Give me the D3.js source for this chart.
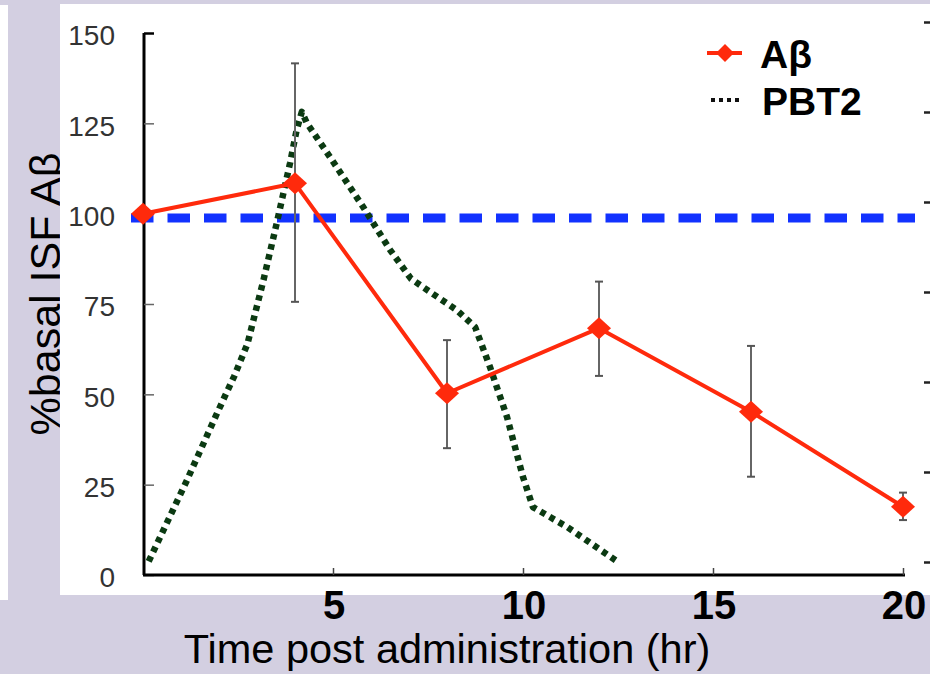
<!DOCTYPE html>
<html>
<head>
<meta charset="utf-8">
<script src="https://cdn.jsdelivr.net/npm/d3@7"></script>
<style>
  html, body { margin: 0; padding: 0; background: #d3cfe1; }
  svg { display: block; }
  text { font-family: "Liberation Sans", Arial, Helvetica, sans-serif; }
</style>
</head>
<body>
<svg id="chart" width="930" height="674"></svg>
<script>
// ---- data ----
const abTime   = [0, 4, 8, 12, 16, 20];
const abValue  = [100, 108.4, 50.3, 68.3, 45.2, 18.9];
const abUpper  = [null, 141.6, 65.0, 81.2, 63.4, 22.8];
const abLower  = [null, 75.6, 35.1, 55.1, 27.2, 15.2];

const pbtTime  = [0.15, 1.16, 1.95, 2.4, 2.75, 3.17, 3.52, 3.87, 4.04, 4.18, 4.31, 4.92, 5.79, 6.5, 7.05, 7.6, 8.26, 8.74, 9.13, 9.58, 10.0, 10.26, 11.16, 12.5];
const pbtValue = [3.8, 26.3, 44.8, 55, 64, 81.6, 97.4, 114, 123, 128.2, 125.1, 115.7, 101.9, 90, 82, 78, 73.3, 68.6, 57.6, 43.7, 27.1, 18.8, 13.3, 3.6];

const baselineValue = 98.8;
const yTicks = [0, 25, 50, 75, 100, 125, 150];
const xTicks = [5, 10, 15, 20];
const seriesNames = ["Aβ", "PBT2"];
const xTitle = "Time post administration (hr)";
const yTitle = "%basal ISF Aβ";

// ---- scales ----
const svg = d3.select("#chart");
const x = d3.scaleLinear().domain([0, 20]).range([143, 903]);
const y = d3.scaleLinear().domain([0, 150]).range([575, 33]);
const yRight = d3.scaleLinear().domain([0, 150]).range([562, 22]);

// background
svg.append("rect").attr("x", 0).attr("y", 0).attr("width", 930).attr("height", 674).attr("fill", "#d3cfe1");
svg.append("rect").attr("x", 0).attr("y", 5).attr("width", 8).attr("height", 595).attr("fill", "#ffffff");

// y title (partly under panel edge)
svg.append("text")
  .attr("transform", "translate(60,294) rotate(-90)")
  .attr("text-anchor", "middle")
  .attr("font-size", 43)
  .attr("fill", "#000")
  .text(yTitle);

// white panel
svg.append("rect").attr("x", 60).attr("y", 4).attr("width", 870).attr("height", 591).attr("fill", "#ffffff");

// y tick labels
svg.append("g").selectAll("text").data(yTicks).join("text")
  .attr("x", 115).attr("y", d => y(d) + 5)
  .attr("text-anchor", "end").attr("dominant-baseline", "middle")
  .attr("font-size", 28).attr("fill", "#333")
  .text(d => d);

// left axis
const yAxis = d3.axisRight(y).tickValues(yTicks).tickSize(10).tickFormat("");
const gy = svg.append("g").attr("transform", "translate(144,0)").call(yAxis);
gy.select(".domain").attr("stroke", "#000").attr("stroke-width", 3).attr("d", `M0,${y(150)}V${y(0)}`);
gy.selectAll(".tick line").attr("stroke", "#666").attr("stroke-width", 1.5);
gy.selectAll(".tick").filter(d => d === 150).select("line").attr("stroke", "#000").attr("stroke-width", 2.5);

// right-side stray axis ticks
const gr = svg.append("g").attr("transform", "translate(930,0)")
  .call(d3.axisLeft(yRight).tickValues(yTicks).tickSize(6).tickFormat(""));
gr.select(".domain").remove();
gr.selectAll(".tick line").attr("stroke", "#222").attr("stroke-width", 2.5);

// x axis
const xAxis = d3.axisTop(x).tickValues(xTicks).tickSize(7).tickFormat("");
const gx = svg.append("g").attr("transform", "translate(0,575)").call(xAxis);
gx.select(".domain").attr("stroke", "#000").attr("stroke-width", 3).attr("d", `M${x(0)},0H${x(20) + 2}`);
gx.selectAll(".tick line").attr("stroke", "#444").attr("stroke-width", 1.5);

// x tick labels
svg.append("g").selectAll("text").data(xTicks).join("text")
  .attr("x", d => x(d) + 1).attr("y", 619)
  .attr("text-anchor", "middle")
  .attr("font-size", 40).attr("font-weight", "bold").attr("fill", "#000")
  .text(d => d);

// x title
svg.append("text")
  .attr("x", 447).attr("y", 663)
  .attr("text-anchor", "middle")
  .attr("font-size", 41.5).attr("fill", "#000")
  .text(xTitle);

// baseline dashed blue line
svg.append("line")
  .attr("x1", 131).attr("x2", 915)
  .attr("y1", y(baselineValue)).attr("y2", y(baselineValue))
  .attr("stroke", "#1232ff").attr("stroke-width", 9)
  .attr("stroke-dasharray", "22.5 14");

// PBT2 dotted line
const pbt = pbtTime.map((t, i) => [t, pbtValue[i]]);
svg.append("path")
  .attr("d", d3.line().x(d => x(d[0])).y(d => y(d[1]))(pbt))
  .attr("fill", "none").attr("stroke", "#0b3a12").attr("stroke-width", 6.5)
  .attr("stroke-dasharray", "5.5 5").attr("stroke-linejoin", "round");

// error bars
const ab = abTime.map((t, i) => ({ t, v: abValue[i], hi: abUpper[i], lo: abLower[i] }));
const eb = svg.append("g").selectAll("g").data(ab.filter(d => d.hi !== null)).join("g");
eb.append("line").attr("x1", d => x(d.t)).attr("x2", d => x(d.t))
  .attr("y1", d => y(d.hi)).attr("y2", d => y(d.lo))
  .attr("stroke", "#666").attr("stroke-width", 2);
eb.append("line").attr("x1", d => x(d.t) - 4).attr("x2", d => x(d.t) + 4)
  .attr("y1", d => y(d.hi)).attr("y2", d => y(d.hi))
  .attr("stroke", "#555").attr("stroke-width", 2);
eb.append("line").attr("x1", d => x(d.t) - 4).attr("x2", d => x(d.t) + 4)
  .attr("y1", d => y(d.lo)).attr("y2", d => y(d.lo))
  .attr("stroke", "#555").attr("stroke-width", 2);

// Aβ line
const red = "#ff2a0c";
svg.append("path")
  .attr("d", d3.line().x(d => x(d.t)).y(d => y(d.v))(ab))
  .attr("fill", "none").attr("stroke", red).attr("stroke-width", 4).attr("stroke-linejoin", "round");

const diamond = (cx, cy, w, h) => `M${cx},${cy - h}L${cx + w},${cy}L${cx},${cy + h}L${cx - w},${cy}Z`;
svg.append("g").selectAll("path").data(ab).join("path")
  .attr("d", d => diamond(x(d.t), y(d.v), 12, 11))
  .attr("fill", red);

// legend
svg.append("line").attr("x1", 707).attr("x2", 742).attr("y1", 53).attr("y2", 53)
  .attr("stroke", red).attr("stroke-width", 4);
svg.append("path").attr("d", diamond(725, 53, 9, 9)).attr("fill", red);
svg.append("text").attr("x", 760).attr("y", 68)
  .attr("font-size", 39).attr("font-weight", "bold").attr("fill", "#000").text(seriesNames[0]);

svg.append("line").attr("x1", 711).attr("x2", 743).attr("y1", 100).attr("y2", 100)
  .attr("stroke", "#111").attr("stroke-width", 4).attr("stroke-dasharray", "4 4");
svg.append("text").attr("x", 762).attr("y", 115)
  .attr("font-size", 39).attr("font-weight", "bold").attr("fill", "#000").text(seriesNames[1]);
</script>
</body>
</html>
